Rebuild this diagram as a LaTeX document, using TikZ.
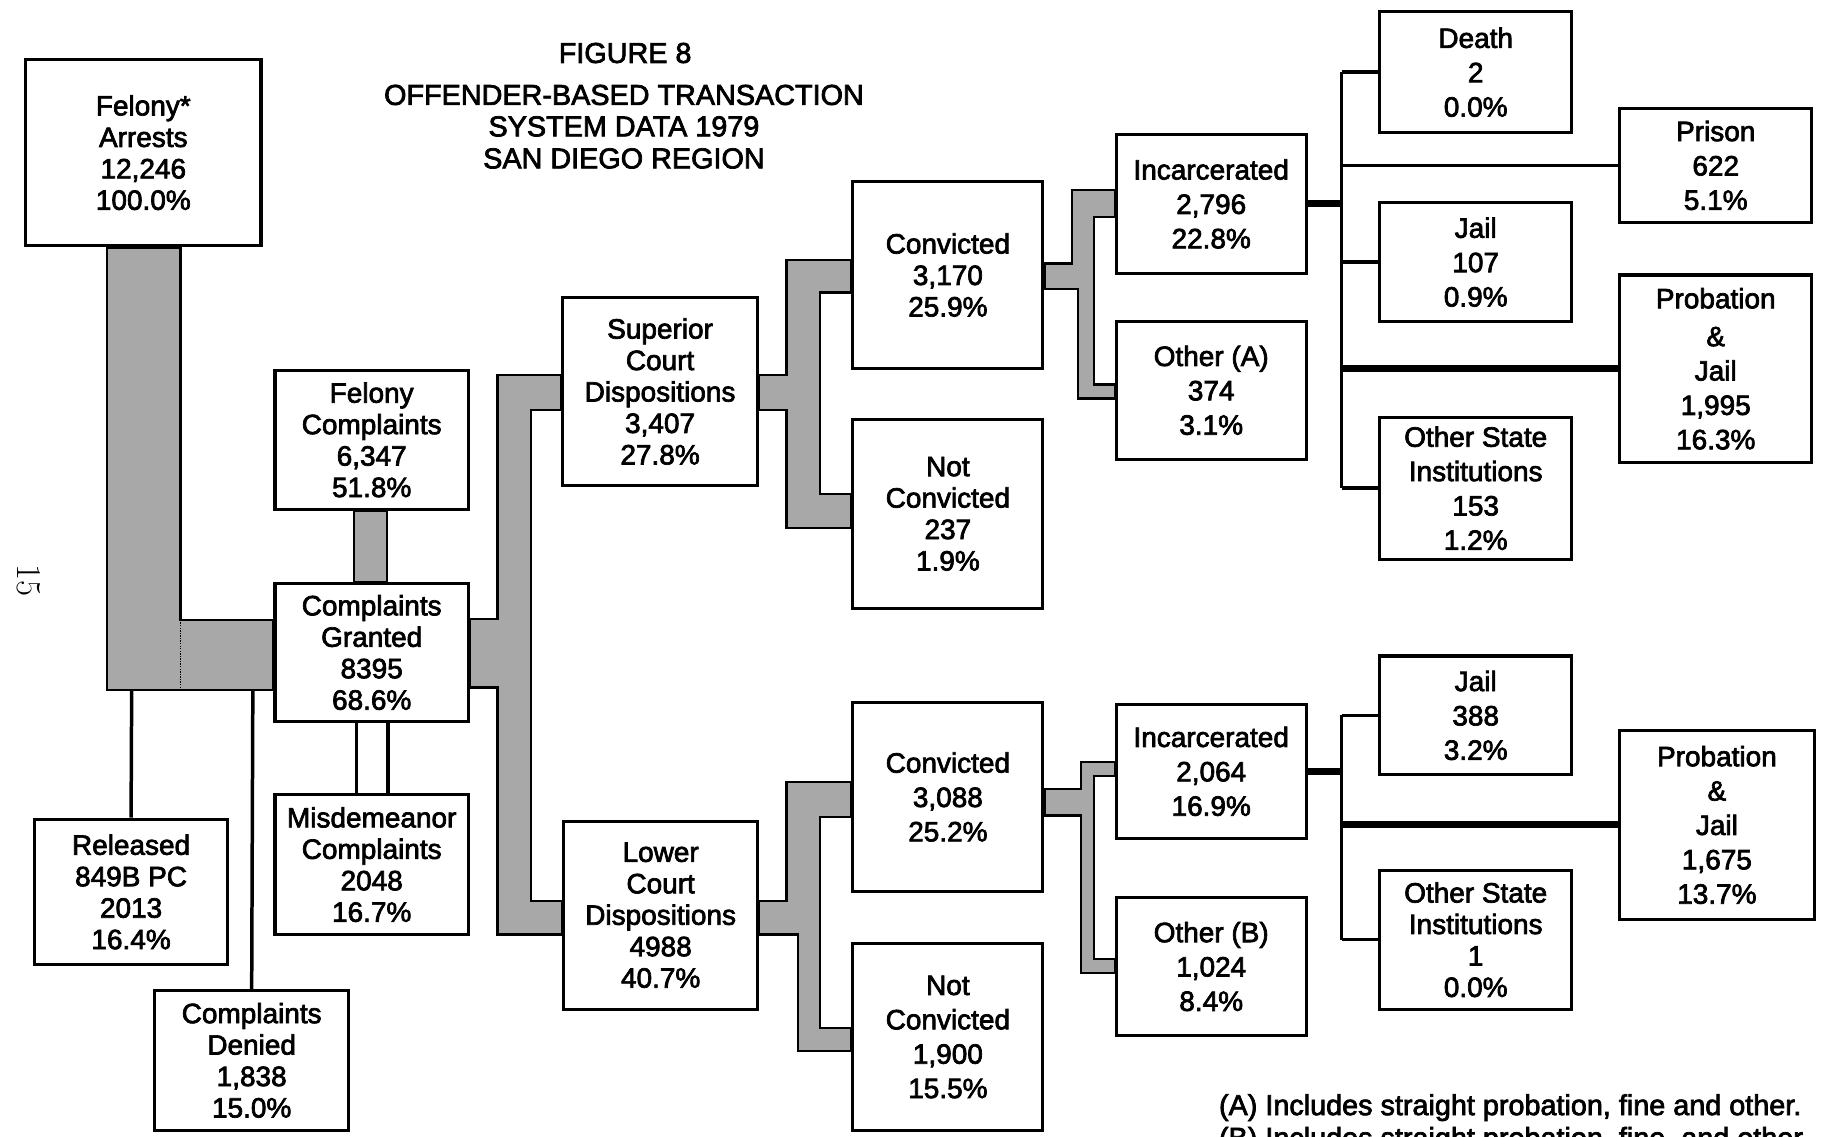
\documentclass[tikz,border=0pt]{standalone}
\usepackage{fontspec}
\newfontfamily\hv[FakeBold=2.5]{Liberation Sans}
\usetikzlibrary{backgrounds}
\tikzset{
  box/.style={draw, line width=2.6pt, fill=white, inner sep=0pt, align=center,
    font=\hv\fontsize{24}{27}\selectfont},
  boxw/.style={box, font=\hv\fontsize{24}{29.5}\selectfont},
  pipe/.style={fill=black!34, draw, line width=2pt, line join=miter},
  conn/.style={line width=3pt},
  heavy/.style={line width=6pt},
  ttl/.style={anchor=base, font=\hv\fontsize{24.7}{27}\selectfont, inner sep=0pt},
}
\begin{document}
\begin{tikzpicture}[x=1pt,y=-1pt]
\useasboundingbox (0,0) rectangle (1568,975);

% title
\node[ttl] (t1) at (536.5,54) {FIGURE 8};
\node[ttl] (t2) at (535.5,90) {OFFENDER-BASED TRANSACTION};
\node[ttl] (t3) at (535.5,117) {SYSTEM DATA 1979};
\node[ttl] (t4) at (535.5,144.5) {SAN DIEGO REGION};

% page number
\node[rotate=-90, font=\fontsize{30}{30}\selectfont, inner sep=0pt] (pg) at (25,498) {15};

% boxes
\node[box, minimum width=202, minimum height=160] (arr) at (123,131) {Felony*\\Arrests\\12,246\\100.0\%};
\node[box, minimum width=166, minimum height=119] (fc) at (319,377.5) {Felony\\Complaints\\6,347\\51.8\%};
\node[box, minimum width=166, minimum height=118] (cg) at (319,560) {Complaints\\Granted\\8395\\68.6\%};
\node[box, minimum width=166, minimum height=120] (mc) at (319,742) {Misdemeanor\\Complaints\\2048\\16.7\%};
\node[box, minimum width=165, minimum height=125] (rel) at (112.5,765.5) {Released\\849B PC\\2013\\16.4\%};
\node[box, minimum width=166, minimum height=120] (den) at (216,910) {Complaints\\Denied\\1,838\\15.0\%};
\node[box, minimum width=167, minimum height=162] (sup) at (566.5,336) {Superior\\Court\\Dispositions\\3,407\\27.8\%};
\node[box, minimum width=166, minimum height=161] (low) at (567,785.5) {Lower\\Court\\Dispositions\\4988\\40.7\%};
\node[box, minimum width=163, minimum height=160] (cv1) at (813.5,236) {Convicted\\3,170\\25.9\%};
\node[box, minimum width=163, minimum height=162] (nc1) at (813.5,441) {Not\\Convicted\\237\\1.9\%};
\node[boxw, minimum width=163, minimum height=162] (cv2) at (813.5,684) {Convicted\\3,088\\25.2\%};
\node[boxw, minimum width=163, minimum height=160] (nc2) at (813.5,890) {Not\\Convicted\\1,900\\15.5\%};
\node[boxw, minimum width=163, minimum height=119] (inc1) at (1039.5,175) {Incarcerated\\2,796\\22.8\%};
\node[boxw, minimum width=163, minimum height=118] (oa) at (1039.5,335) {Other (A)\\374\\3.1\%};
\node[boxw, minimum width=163, minimum height=115] (inc2) at (1039.5,662) {Incarcerated\\2,064\\16.9\%};
\node[boxw, minimum width=163, minimum height=119] (ob) at (1039.5,829.5) {Other (B)\\1,024\\8.4\%};
\node[boxw, minimum width=165, minimum height=104] (death) at (1266.5,62) {Death\\2\\0.0\%};
\node[boxw, minimum width=165, minimum height=98] (prison) at (1472.5,142) {Prison\\622\\5.1\%};
\node[boxw, minimum width=165, minimum height=102] (jail1) at (1266.5,225) {Jail\\107\\0.9\%};
\node[boxw, minimum width=165, minimum height=161] (pj1) at (1472.5,316.5) {Probation\\[3pt]\&\\Jail\\1,995\\16.3\%};
\node[boxw, minimum width=165, minimum height=122] (osi1) at (1266.5,419) {Other State\\Institutions\\153\\1.2\%};
\node[boxw, minimum width=165, minimum height=102] (jail2) at (1266.5,614) {Jail\\388\\3.2\%};
\node[boxw, minimum width=167, minimum height=162] (pj2) at (1473.5,708) {Probation\\\&\\Jail\\1,675\\13.7\%};
\node[box, minimum width=165, minimum height=119] (osi2) at (1266.5,806.5) {Other State\\Institutions\\1\\0.0\%};

% footnotes
\node[anchor=base west, inner sep=0pt, font=\hv\fontsize{24.7}{27}\selectfont] (fnA) at (1046,957) {(A) Includes straight probation, fine and other.};
\begin{scope}
\clip (0,0) rectangle (1568,975);
\node[anchor=base west, inner sep=0pt, font=\hv\fontsize{24.7}{27}\selectfont] (fnB) at (1046,985) {(B) Includes straight probation, fine, and other.};
\end{scope}

\begin{pgfonlayer}{background}
\fill[white] (0,0) rectangle (1568,975);
% arrests -> granted
\filldraw[pipe] (arr.south -| 92,0) -- (92,592) -- (cg.west |- 0,592) -- (cg.west |- 0,532) -- (155,532) -- (arr.south -| 155,0) -- cycle;
% felony complaints -> granted
\filldraw[pipe] (fc.south -| 304,0) rectangle (cg.north -| 332,0);
% granted -> superior / lower
\filldraw[pipe] (cg.east |- 0,531) -- (427,531) -- (427,322) -- (sup.west |- 0,322) -- (sup.west |- 0,352) -- (456,352) -- (456,773) -- (low.west |- 0,773) -- (low.west |- 0,802) -- (427,802) -- (427,590) -- (cg.east |- 0,590) -- cycle;
% superior -> convicted / not convicted
\filldraw[pipe] (sup.east |- 0,322) -- (675,322) -- (675,223) -- (cv1.west |- 0,223) -- (cv1.west |- 0,251) -- (704,251) -- (704,424) -- (nc1.west |- 0,424) -- (nc1.west |- 0,453) -- (675,453) -- (675,352) -- (sup.east |- 0,352) -- cycle;
% lower -> convicted / not convicted
\filldraw[pipe] (low.east |- 0,773) -- (675,773) -- (675,671) -- (cv2.west |- 0,671) -- (cv2.west |- 0,701) -- (704,701) -- (704,882) -- (nc2.west |- 0,882) -- (nc2.west |- 0,902) -- (685,902) -- (685,802) -- (low.east |- 0,802) -- cycle;
% convicted -> incarcerated / other A
\filldraw[pipe] (cv1.east |- 0,226) -- (920,226) -- (920,163) -- (inc1.west |- 0,163) -- (inc1.west |- 0,186) -- (939,186) -- (939,330) -- (oa.west |- 0,330) -- (oa.west |- 0,342) -- (925,342) -- (925,248) -- (cv1.east |- 0,248) -- cycle;
% convicted -> incarcerated / other B
\filldraw[pipe] (cv2.east |- 0,677) -- (928,677) -- (928,654) -- (inc2.west |- 0,654) -- (inc2.west |- 0,666) -- (939,666) -- (939,823) -- (ob.west |- 0,823) -- (ob.west |- 0,835) -- (928,835) -- (928,700) -- (cv2.east |- 0,700) -- cycle;
\draw[densely dotted, line width=1.2pt] (155,532) -- (155,592);
\end{pgfonlayer}

% released / denied
\coordinate (rj) at (113,592);
\coordinate (dj) at (217,592);
\draw[conn] (rj) -- (rel.north);
\draw[conn] (dj) -- (den.north);
% granted -> misdemeanor (hollow)
\draw[conn] (cg.south -| 306,0) -- (mc.north -| 306,0);
\draw[conn] (cg.south -| 333,0) -- (mc.north -| 333,0);

% sentencing, top
\coordinate (s1) at (1151.5,0);
\draw[heavy] (inc1.east) -- (s1 |- inc1.east);
\draw[conn] (s1 |- death.west) -- (s1 |- osi1.west);
\draw[conn] (s1 |- death.west) -- (death.west);
\draw[conn] (s1 |- prison.west) -- (prison.west);
\draw[conn] (s1 |- jail1.west) -- (jail1.west);
\draw[heavy] (s1 |- pj1.west) -- (pj1.west);
\draw[conn] (s1 |- osi1.west) -- (osi1.west);
% sentencing, bottom
\draw[heavy] (inc2.east) -- (s1 |- inc2.east);
\draw[conn] (s1 |- jail2.west) -- (s1 |- osi2.west);
\draw[conn] (s1 |- jail2.west) -- (jail2.west);
\draw[heavy] (s1 |- pj2.west) -- (pj2.west);
\draw[conn] (s1 |- osi2.west) -- (osi2.west);
\end{tikzpicture}
\end{document}
